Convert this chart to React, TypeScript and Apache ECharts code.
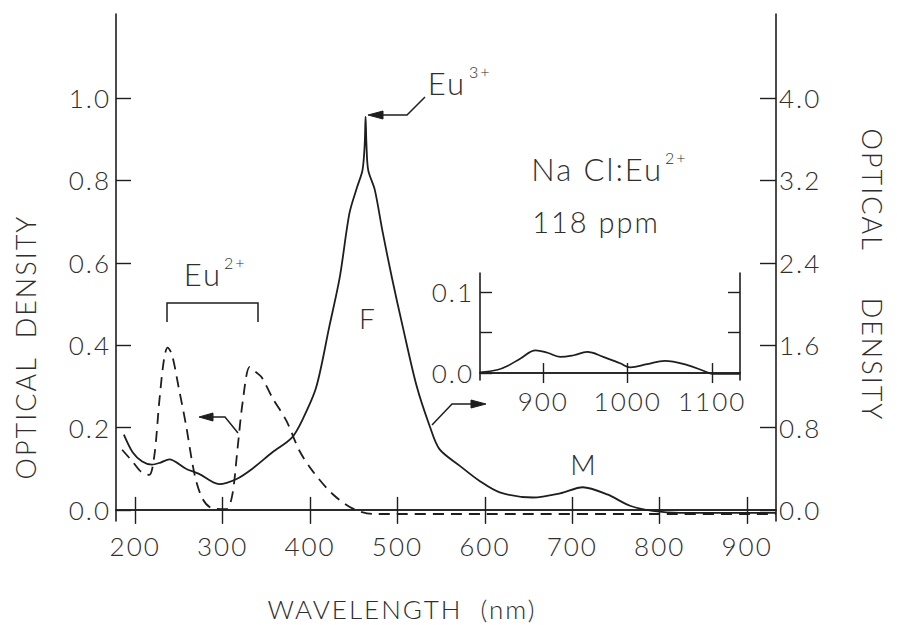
import React, { useEffect, useRef } from "react";
import * as echarts from "echarts";

// ---- data ----
const xTicks = [200, 300, 400, 500, 600, 700, 800, 900];
const leftTicks = [0, 0.2, 0.4, 0.6, 0.8, 1.0];
const rightTicks = [0, 0.8, 1.6, 2.4, 3.2, 4.0];

// solid curve, right axis (optical density 0-4)
const solidNm = [187, 197, 208, 219, 229, 239, 258, 273, 296, 316, 334, 357, 379, 391, 407, 422, 434, 445, 454, 460, 462.5, 463.5, 464.5, 466.5, 474, 483, 494, 506, 522, 537, 548, 571, 594, 617, 655, 686, 712, 740, 766, 792, 823, 900, 933];
const solidOD = [0.73, 0.56, 0.47, 0.44, 0.46, 0.49, 0.40, 0.35, 0.25, 0.30, 0.40, 0.56, 0.70, 0.87, 1.19, 1.78, 2.26, 2.88, 3.14, 3.30, 3.55, 3.82, 3.55, 3.30, 3.11, 2.70, 2.24, 1.78, 1.20, 0.81, 0.59, 0.43, 0.28, 0.17, 0.12, 0.16, 0.22, 0.15, 0.04, -0.01, -0.03, -0.03, -0.03];

// dashed curve, left axis (optical density 0-1)
const dashedNm = [185, 197, 207, 216, 222, 227.5, 233, 237, 242, 250, 258, 268, 277, 288, 304, 311, 317, 323, 331, 339, 345, 357, 373, 388, 403, 426, 449, 472, 600, 800, 933];
const dashedOD = [0.146, 0.117, 0.092, 0.085, 0.134, 0.263, 0.367, 0.394, 0.377, 0.294, 0.207, 0.085, 0.027, 0.004, 0.002, 0.036, 0.148, 0.263, 0.347, 0.333, 0.321, 0.272, 0.216, 0.143, 0.094, 0.038, 0.003, -0.01, -0.01, -0.01, -0.01];

// inset (near-IR)
const insetNm = [825, 846, 858, 873, 891, 905, 920, 936, 952, 971, 991, 1003, 1023, 1044, 1070, 1094, 1101, 1133];
const insetOD = [0.001, 0.004, 0.009, 0.018, 0.028, 0.025, 0.020, 0.022, 0.026, 0.020, 0.012, 0.007, 0.011, 0.015, 0.010, 0.001, -0.001, -0.001];
const insetTicksX = [900, 1000, 1100];
const insetTicksY = [0, 0.05, 0.1];
const insetLabelsY = [0, 0.1];

const INK = "#1e1e1e";
const TXT = "#2e2e2e";
const FONT = "Lato, 'Open Sans', sans-serif";

const zip = (xs: number[], ys: number[]) => xs.map((x, i) => [x, ys[i]]);

export default function App() {
  const ref = useRef<HTMLDivElement>(null);
  useEffect(() => {
    document.body.style.margin = "0";
    const chart = echarts.init(ref.current!, null, { renderer: "svg" });
    const axisLine = { show: true, lineStyle: { color: INK, width: 1.6 } };
    const tickStyle = { color: INK, width: 1.4 };
    const lab = (extra: any) => ({
      fontFamily: FONT,
      fontWeight: 300,
      fontSize: 26,
      color: TXT,
      ...extra,
    });
    const fmt1 = (v: number) => v.toFixed(1);
    const fmt0 = (v: number) => String(v);

    const text = (t: string, x: number, y: number, size: number, align = "left", rotation = 0) => ({
      type: "text",
      x,
      y,
      rotation,
      style: {
        text: t,
        fontSize: size,
        fontFamily: FONT,
        fontWeight: 300,
        fill: TXT,
        align,
        verticalAlign: "middle",
      },
    });
    const line = (pts: number[][]) => ({
      type: "polyline",
      shape: { points: pts },
      style: { stroke: INK, lineWidth: 1.5, fill: "none" },
    });
    const head = (pts: number[][]) => ({
      type: "polygon",
      shape: { points: pts },
      style: { fill: INK, stroke: INK, lineWidth: 1 },
    });

    chart.setOption({
      animation: false,
      backgroundColor: "#ffffff",
      grid: [
        { left: 116, right: 121, top: 14, bottom: 104, outerBoundsMode: "none", containLabel: false },
        { left: 480, top: 273, width: 260, height: 107, outerBoundsMode: "none", containLabel: false },
      ],
      xAxis: [
        {
          gridIndex: 0, type: "value", position: "bottom", min: 178, max: 933,
          axisLine, splitLine: { show: false },
          axisTick: { inside: true, length: 13, customValues: xTicks, lineStyle: tickStyle },
          axisLabel: lab({ customValues: xTicks, margin: 12, formatter: fmt0 }),
        },
        {
          gridIndex: 0, type: "value", position: "top", min: 178, max: 933,
          axisLine, splitLine: { show: false },
          axisTick: { inside: true, length: 14, customValues: xTicks, lineStyle: tickStyle },
          axisLabel: { show: false },
        },
        {
          gridIndex: 1, type: "value", position: "bottom", min: 825, max: 1133,
          axisLine, splitLine: { show: false },
          axisTick: { inside: true, length: 10, customValues: insetTicksX, lineStyle: tickStyle },
          axisLabel: lab({ customValues: insetTicksX, margin: 8, formatter: fmt0 }),
        },
        {
          gridIndex: 1, type: "value", position: "top", min: 825, max: 1133,
          axisLine, splitLine: { show: false },
          axisTick: { inside: true, length: 10, customValues: insetTicksX, lineStyle: tickStyle },
          axisLabel: { show: false },
        },
      ],
      yAxis: [
        {
          gridIndex: 0, type: "value", position: "left", min: -0.027, max: 1.204,
          axisLine, splitLine: { show: false },
          axisTick: { inside: true, length: 15, customValues: leftTicks, lineStyle: tickStyle },
          axisLabel: lab({ customValues: leftTicks, margin: 5, formatter: fmt1 }),
        },
        {
          gridIndex: 0, type: "value", position: "right", min: -0.108, max: 4.816,
          axisLine, splitLine: { show: false },
          axisTick: { inside: true, length: 16, customValues: rightTicks, lineStyle: tickStyle },
          axisLabel: lab({ customValues: rightTicks, margin: 3, formatter: fmt1 }),
        },
        {
          gridIndex: 1, type: "value", position: "left", min: -0.0086, max: 0.1235,
          axisLine, splitLine: { show: false },
          axisTick: { inside: true, length: 12, customValues: insetTicksY, lineStyle: tickStyle },
          axisLabel: lab({ customValues: insetLabelsY, margin: 6, formatter: fmt1 }),
        },
        {
          gridIndex: 1, type: "value", position: "right", min: -0.0086, max: 0.1235,
          axisLine, splitLine: { show: false },
          axisTick: { inside: true, length: 12, customValues: insetTicksY.slice(1), lineStyle: tickStyle },
          axisLabel: { show: false },
        },
      ],
      series: [
        {
          type: "line", xAxisIndex: 0, yAxisIndex: 1, data: zip(solidNm, solidOD),
          showSymbol: false, smooth: 0.3, lineStyle: { color: INK, width: 1.8 },
        },
        {
          type: "line", xAxisIndex: 0, yAxisIndex: 0, data: zip(dashedNm, dashedOD),
          showSymbol: false, smooth: 0.3, lineStyle: { color: INK, width: 1.8, type: [11, 7] },
        },
        {
          type: "line", xAxisIndex: 2, yAxisIndex: 2, data: zip(insetNm, insetOD),
          showSymbol: false, smooth: 0.4, lineStyle: { color: INK, width: 1.7 },
        },
      ],
      graphic: [
        text("Eu", 466, 83, 31, "right"),
        text("3+", 469, 71, 16),
        line([[425, 97], [407, 115], [380, 115]]),
        head([[368, 115], [383, 111], [383, 119]]),
        text("Na Cl:Eu", 663, 169, 31, "right"),
        text("2+", 665, 157, 16),
        text("118 ppm", 596, 221, 29, "center"),
        text("Eu", 222, 274, 31, "right"),
        text("2+", 224, 262, 16),
        line([[167, 322], [167, 303], [258, 303], [258, 322]]),
        text("F", 368, 318, 28, "center"),
        text("M", 584, 464, 28, "center"),
        line([[238, 433], [225, 417], [212, 417]]),
        head([[199, 417], [213, 413], [213, 421]]),
        line([[432, 425], [452, 404], [472, 404]]),
        head([[486, 404], [471, 400], [471, 408]]),
        text("WAVELENGTH  (nm)", 402, 609, 26, "center"),
        text("OPTICAL  DENSITY", 25, 347, 27, "center", Math.PI / 2),
        text("OPTICAL     DENSITY", 872, 275, 27, "center", -Math.PI / 2),
      ],
    });
    return () => chart.dispose();
  }, []);
  return <div ref={ref} style={{ width: 897, height: 625, letterSpacing: "2px" }} />;
}
